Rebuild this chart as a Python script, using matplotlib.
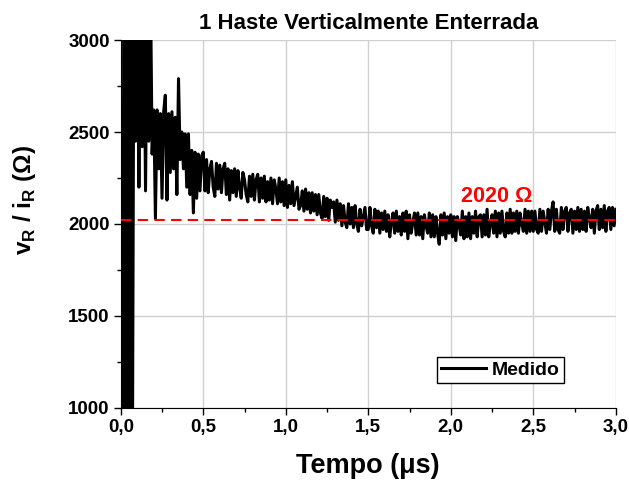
import numpy as np
import matplotlib
matplotlib.use('Agg')
import matplotlib.pyplot as plt
from matplotlib.ticker import MultipleLocator, FuncFormatter

plt.rcParams['font.family'] = ['Liberation Sans', 'DejaVu Sans']
plt.rcParams['font.weight'] = 'bold'
plt.rcParams['mathtext.fontset'] = 'custom'
plt.rcParams['mathtext.bf'] = 'Liberation Sans:bold'
plt.rcParams['mathtext.rm'] = 'Liberation Sans:bold'

# measured v_R / i_R (ohm), one sample every 0.01 us from 0 to 3.0 us
dt = 0.01
medido = [
    2000, 500, 3600, 400, 3500, 600, 3500, 500, 3400, 2450,
    3400, 2200, 3300, 2420, 3300, 2180, 3200, 2450, 3300, 2380,
    2620, 2030, 2620, 2300, 2600, 2140, 2610, 2700, 2130, 2600,
    2280, 2610, 2300, 2580, 2160, 2790, 2350, 2500, 2300, 2490,
    2200, 2490, 2160, 2400, 2060, 2390, 2140, 2380, 2180, 2370,
    2390, 2180, 2350, 2170, 2300, 2340, 2200, 2150, 2330, 2190,
    2320, 2170, 2300, 2330, 2160, 2300, 2130, 2290, 2170, 2300,
    2150, 2290, 2200, 2140, 2280, 2240, 2160, 2120, 2260, 2150,
    2270, 2130, 2240, 2270, 2120, 2250, 2140, 2260, 2120, 2230,
    2130, 2250, 2110, 2240, 2190, 2110, 2250, 2120, 2230, 2100,
    2240, 2090, 2210, 2110, 2230, 2100, 2150, 2200, 2080, 2100,
    2180, 2070, 2190, 2080, 2170, 2060, 2170, 2070, 2160, 2050,
    2160, 2060, 2030, 2150, 2040, 2140, 2020, 2130, 2090, 2120,
    2010, 2130, 2020, 2110, 1990, 2100, 2010, 1980, 2110, 2000,
    2090, 1980, 2100, 2000, 1960, 2080, 1990, 2040, 2090, 1970,
    1970, 2090, 1990, 1950, 2080, 1980, 2070, 1950, 2060, 1970,
    2070, 1960, 2050, 1930, 2010, 2060, 1950, 2070, 1960, 2040,
    1940, 2060, 1960, 2070, 1920, 2050, 1950, 2010, 2060, 1940,
    2060, 1940, 2040, 1920, 2050, 1990, 1950, 2060, 1930, 2050,
    1930, 2040, 1950, 1890, 2050, 1940, 2060, 1920, 2040, 1950,
    2050, 1930, 2040, 1910, 2040, 2000, 1940, 2070, 1920, 2040,
    1930, 2060, 1920, 2040, 1950, 2070, 1930, 2040, 2050, 1930,
    2050, 1940, 2080, 1930, 2000, 2050, 1950, 2070, 1930, 2060,
    1950, 2070, 1960, 1930, 2060, 1950, 2080, 1950, 2060, 1960,
    2070, 1950, 2060, 2000, 1960, 2080, 1950, 2070, 1960, 2070,
    1960, 2070, 1970, 1950, 2080, 1960, 2070, 2010, 1950, 2080,
    1970, 2070, 2120, 1960, 2080, 1970, 1950, 2090, 1970, 2070,
    2090, 1960, 2060, 2080, 1950, 2070, 1970, 2090, 1960, 2080,
    1970, 2070, 1960, 2090, 2030, 1980, 2080, 1950, 2070, 2100,
    1970, 2080, 1980, 2100, 1960, 2070, 2090, 1970, 2090, 1990,
    2080,
]
tempo = np.arange(len(medido)) * dt
r_final = 2020

fig = plt.figure(figsize=(6.29, 4.88), dpi=100)
ax = fig.add_axes([0.192, 0.164, 0.787, 0.754])

ax.plot(tempo, medido, color='black', lw=2.2, label='Medido', zorder=3)
ax.axhline(r_final, color='red', lw=1.5, dashes=(5, 3), zorder=4)
ax.text(2.28, 2147, '2020 Ω', color='red', fontsize=15.5, fontweight='bold',
        ha='center', va='center')

ax.set_xlim(0, 3.0)
ax.set_ylim(1000, 3000)
ax.xaxis.set_major_locator(MultipleLocator(0.5))
ax.xaxis.set_minor_locator(MultipleLocator(0.25))
ax.yaxis.set_major_locator(MultipleLocator(500))
ax.yaxis.set_minor_locator(MultipleLocator(250))
ax.xaxis.set_major_formatter(FuncFormatter(lambda v, p: ('%.1f' % v).replace('.', ',')))
ax.tick_params(which='major', direction='out', length=5, width=1, labelsize=13.5, pad=3)
ax.tick_params(which='minor', direction='out', length=3, width=1)
for lab in ax.get_xticklabels() + ax.get_yticklabels():
    lab.set_fontweight('bold')

ax.grid(True, which='major', color='#d0d0d0', lw=1)
ax.set_axisbelow(True)
for s in ['top', 'right']:
    ax.spines[s].set_visible(False)

ax.set_title('1 Haste Verticalmente Enterrada', fontsize=16, fontweight='bold', pad=8)
ax.set_xlabel('Tempo (μs)', fontsize=19.5, fontweight='bold', labelpad=12)
ax.set_ylabel(r'v$_\mathbf{R}$ / i$_\mathbf{R}$ (Ω)', fontsize=17.5, fontweight='bold')
ax.yaxis.set_label_coords(-0.168, 0.565)

leg = ax.legend(loc='lower right', bbox_to_anchor=(0.895, 0.068), fontsize=14,
                fancybox=False, framealpha=1, edgecolor='black',
                handlelength=2.3, handletextpad=0.3, borderpad=0.22,
                borderaxespad=0)
leg.get_frame().set_linewidth(1)
for t in leg.get_texts():
    t.set_fontweight('bold')

fig.savefig('out.png', dpi=100)
